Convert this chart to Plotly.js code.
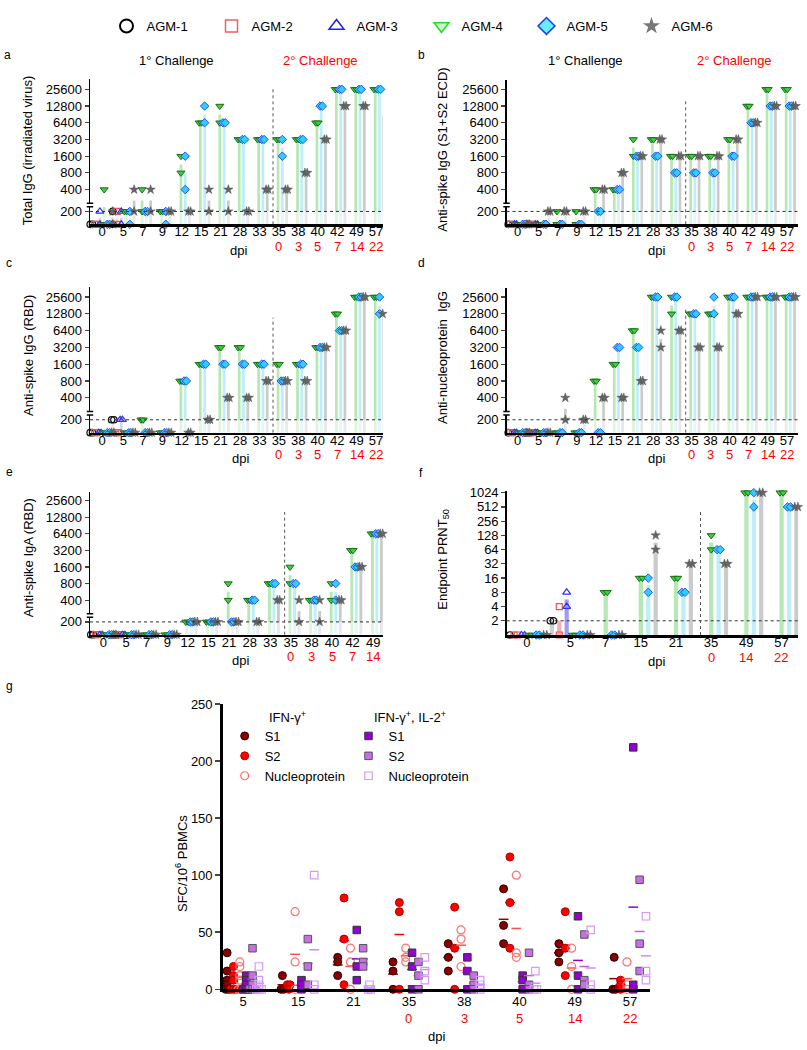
<!DOCTYPE html>
<html><head><meta charset="utf-8">
<script src="https://cdn.plot.ly/plotly-3.0.1.min.js"></script>
<style>html,body{margin:0;padding:0;background:#fff}</style>
</head><body><div id="chart" style="width:807px;height:1050px"></div>
<script>
// ================= DATA =================
const animalNames = ['AGM-1','AGM-2','AGM-3','AGM-4','AGM-5','AGM-6'];
const dayLabels  = ['0','5','7','9','12','15','21','28','33','35','38','40','42','49','57'];
const dayLabelsE = ['0','5','7','9','12','15','21','28','33','35','38','40','42','49'];
const dayLabelsF = ['0','5','7','15','21','35','49','57'];
const challengeDpi = {'35':'0','38':'3','40':'5','42':'7','49':'14','57':'22'};
const titerTicks = [200,400,800,1600,3200,6400,12800,25600];
const prntTicks  = [2,4,8,16,32,64,128,256,512,1024];
const LOD_TITER = 200, LOD_PRNT = 2;

// each entry = [replicate1, replicate2]; 0 = not detected (baseline)
// a: Total IgG (irradiated virus)
const a_AGM1 = [[0,0],[200,0]];
const a_AGM2 = [[0,0],[200,0]];
const a_AGM3 = [[200,0],[200,0]];
const a_AGM4 = [[400,0],[200,200],[400,200],[200,200],[1600,800],[6400,6400],[12800,6400],[3200,3200],[3200,3200],[3200,3200],[3200,3200],[6400,6400],[25600,25600],[25600,25600],[25600,25600]];
const a_AGM5 = [[0,0],[200,0],[200,200],[200,0],[1600,400],[12800,6400],[6400,6400],[3200,3200],[3200,3200],[3200,1600],[3200,3200],[12800,12800],[25600,25600],[25600,25600],[25600,25600]];
const a_AGM6 = [[200,0],[400,200],[400,200],[200,200],[200,200],[400,200],[400,200],[200,200],[400,400],[400,400],[800,800],[3200,3200],[12800,12800],[12800,12800],[12800,6400]];
// b: Anti-spike IgG (S1+S2 ECD)
const b_AGM1 = [[0,0],[0,0]];
const b_AGM2 = [[0,0],[0,0]];
const b_AGM3 = [[0,0],[0,0]];
const b_AGM4 = [[0,0],[0,0],[200,0],[200,0],[400,400],[400,400],[3200,1600],[3200,3200],[1600,1600],[1600,1600],[1600,1600],[3200,3200],[12800,12800],[25600,25600],[25600,25600]];
const b_AGM5 = [[0,0],[0,0],[0,0],[0,0],[200,200],[400,400],[1600,1600],[1600,1600],[800,800],[800,800],[800,800],[1600,1600],[6400,6400],[12800,12800],[12800,12800]];
const b_AGM6 = [[0,0],[200,200],[200,200],[200,200],[400,400],[800,800],[1600,1600],[3200,3200],[1600,1600],[1600,1600],[1600,1600],[3200,3200],[6400,6400],[12800,12800],[12800,12800]];
// c: Anti-spike IgG (RBD)
const c_AGM1 = [[0,0],[200,200]];
const c_AGM2 = [[0,0],[0,0]];
const c_AGM3 = [[0,0],[200,200]];
const c_AGM4 = [[0,0],[0,0],[200,200],[0,0],[800,800],[1600,1600],[3200,3200],[3200,3200],[1600,1600],[1600,1600],[1600,1600],[3200,3200],[12800,12800],[25600,25600],[25600,25600]];
const c_AGM5 = [[0,0],[0,0],[0,0],[0,0],[800,800],[1600,1600],[1600,1600],[1600,1600],[1600,1600],[800,800],[1600,1600],[3200,3200],[6400,6400],[25600,25600],[25600,12800]];
const c_AGM6 = [[0,0],[0,0],[0,0],[0,0],[0,0],[200,200],[400,400],[400,400],[800,800],[800,800],[800,800],[3200,3200],[6400,6400],[25600,25600],[12800,12800]];
// d: Anti-nucleoprotein IgG
const d_AGM1 = [[0,0],[0,0]];
const d_AGM2 = [[0,0],[0,0]];
const d_AGM3 = [[0,0],[0,0]];
const d_AGM4 = [[0,0],[0,0],[0,0],[0,0],[800,800],[1600,1600],[6400,6400],[25600,25600],[25600,12800],[12800,12800],[12800,12800],[25600,25600],[25600,25600],[25600,25600],[25600,25600]];
const d_AGM5 = [[0,0],[0,0],[0,0],[0,0],[0,0],[3200,3200],[3200,3200],[25600,25600],[25600,25600],[12800,12800],[25600,12800],[25600,25600],[25600,25600],[25600,25600],[25600,25600]];
const d_AGM6 = [[0,0],[0,0],[400,200],[200,200],[400,400],[400,400],[800,800],[6400,3200],[6400,6400],[3200,3200],[3200,3200],[12800,12800],[25600,25600],[25600,25600],[25600,25600]];
// e: Anti-spike IgA (RBD)
const e_AGM1 = [[0,0],[0,0]];
const e_AGM2 = [[0,0],[0,0]];
const e_AGM3 = [[0,0],[0,0]];
const e_AGM4 = [[0,0],[0,0],[0,0],[0,0],[200,200],[200,200],[800,400],[400,400],[800,800],[1600,800],[400,400],[800,400],[3200,3200],[6400,6400]];
const e_AGM5 = [[0,0],[0,0],[0,0],[0,0],[200,200],[200,200],[200,200],[400,400],[800,800],[800,800],[400,400],[800,400],[1600,1600],[6400,6400]];
const e_AGM6 = [[0,0],[0,0],[0,0],[0,0],[200,200],[200,200],[200,200],[200,200],[400,400],[400,200],[400,200],[400,400],[1600,1600],[6400,6400]];
// f: Endpoint PRNT50 (1 = baseline)
const f_AGM1 = [[1,1],[2,2]];
const f_AGM2 = [[1,1],[4,1]];
const f_AGM3 = [[1,1],[8,4]];
const f_AGM4 = [[1,1],[1,1],[8,8],[16,16],[16,16],[128,64],[1024,1024],[1024,1024]];
const f_AGM5 = [[1,1],[1,1],[1,1],[16,8],[8,8],[64,64],[1024,512],[512,512]];
const f_AGM6 = [[1,1],[1,1],[1,1],[128,64],[32,32],[32,32],[1024,1024],[512,512]];

// g: SFC/10^6 PBMCs
const gDays = ['5','15','21','35','38','40','49','57'];
const gTicks = [0,50,100,150,200,250];
const g_IFN_S1  = [[32,16,8,4,0,0],[12,0,0],[28,24,12],[24,16,0],[40,28,16],[88,56,40],[40,32,24],[28,0,0]];
const g_IFN_S2  = [[20,12,8,0,0,0],[4,4,0],[80,44,4],[76,68,0],[72,36,0],[116,76,36],[68,36,12],[8,4,0]];
const g_IFN_N   = [[24,20,12,8,0,0],[68,24,0],[36,24,0],[36,28,24],[52,44,20],[100,32,28],[36,20,0],[24,4,0]];
const g_IL2_S1  = [[12,8,4,0,0,0],[8,4,0],[52,20,8],[32,20,0],[28,16,0],[12,8,0],[64,12,0],[212,4,0]];
const g_IL2_S2  = [[36,12,4,0,0,0],[44,20,4],[36,24,20],[24,12,0],[12,4,0],[32,4,0],[48,8,4],[96,40,16]];
const g_IL2_N   = [[20,8,4,0,0,0],[100,4,0],[4,0,0],[28,16,8],[8,4,0],[16,0,0],[52,4,0],[64,16,8]];

// ================= STYLE / LAYOUT =================
const W = 807, H = 1050;
const FONT = 'Arial, "Liberation Sans", sans-serif';
const px = v => v / W, py = v => 1 - v / H;
const P200 = 0.77, P400 = 2.08;
function ypos(v){ if(v<=0) return 0; if(v<200) return P200*v/200; if(v<400) return P200+(P400-P200)*Math.log2(v/200); return P400+Math.log2(v/400); }

const GEOM = {
 a:{x0:90,   x1:383,   yb:224.3, yt:79,    range:[-0.62,14.46], ymax:8.70, divTop:8.16, gap0:0.1, step:0.22, shift:-0.15, rep:0.06, bw:0.14},
 b:{x0:506.5,x1:798,   yb:224.3, yt:80,    range:[-0.58,14.68], ymax:8.64, divTop:7.38, gap0:0.1, step:0.22, shift:-0.15, rep:0.06, bw:0.14},
 c:{x0:90,   x1:383,   yb:432.7, yt:287.3, range:[-0.62,14.46], ymax:8.66, divTop:6.85, gap0:0.1, step:0.22, shift:-0.15, rep:0.06, bw:0.14},
 d:{x0:506.5,x1:798,   yb:432.7, yt:288.3, range:[-0.58,14.68], ymax:8.60, divTop:7.43, gap0:0.1, step:0.22, shift:-0.15, rep:0.06, bw:0.14},
 e:{x0:90,   x1:383.3, yb:634.7, yt:491.7, range:[-0.65,13.59], ymax:8.61, divTop:7.39, gap0:0.1, step:0.22, shift:-0.15, rep:0.06, bw:0.14},
 f:{x0:506.7,x1:798.3, yb:635,   yt:490.7, range:[-0.57,7.72],  ymax:10.14,divTop:8.66, gap0:0.24,step:0.21, shift:-0.1,  rep:0.045,bw:0.12},
 g:{x0:222.7,x1:650,   yb:989.3, yt:704,   range:[-0.367,7.36]}
};
const MARK = [
 {symbol:'circle-open', size:6.5, color:'#111', line:{width:1.2}},
 {symbol:'square-open', size:6, color:'#f05050', line:{width:1.2}},
 {symbol:'triangle-up-open', size:7, color:'#3030f0', line:{width:1.2}},
 {symbol:'triangle-down', size:7, color:'#44cc44', line:{color:'#107010', width:1}},
 {symbol:'diamond', size:6.5, color:'#33ccff', line:{color:'#2255ee', width:1}},
 {symbol:'star', size:7, color:'#666', line:{color:'#555', width:0.5}}
];
const LEGMARK = [
 {symbol:'circle-open', size:13, color:'#000', line:{width:2}},
 {symbol:'square-open', size:12, color:'#f06060', line:{width:1.5}},
 {symbol:'triangle-up-open', size:13, color:'#2020ee', line:{width:1.5}},
 {symbol:'triangle-down', size:13, color:'#c8f5c8', line:{color:'#22dd22', width:1.5}},
 {symbol:'diamond', size:13, color:'#66eeff', line:{color:'#1a3cf0', width:1.5}},
 {symbol:'star', size:13, color:'#777', line:{color:'#777', width:0}}
];
const BARCOL = ['#cfcfcf','#f4b0b0','#9c9cf0','#b5e8b5','#bdeefb','#cbcbcb'];

const PANELS = [
 {id:'a', n:'',  data:[a_AGM1,a_AGM2,a_AGM3,a_AGM4,a_AGM5,a_AGM6], labels:dayLabels,  kind:'titer', yTitle:'Total IgG (irradiated virus)', tx:28.3, ty:150, letter:[7,55], dpiX:239},
 {id:'b', n:'2', data:[b_AGM1,b_AGM2,b_AGM3,b_AGM4,b_AGM5,b_AGM6], labels:dayLabels,  kind:'titer', yTitle:'Anti-spike IgG (S1+S2 ECD)', tx:442.7, ty:150, letter:[421.7,55], dpiX:656.7},
 {id:'c', n:'3', data:[c_AGM1,c_AGM2,c_AGM3,c_AGM4,c_AGM5,c_AGM6], labels:dayLabels,  kind:'titer', yTitle:'Anti-spike IgG (RBD)', tx:28.3, ty:355.7, letter:[9,262.7], dpiX:240},
 {id:'d', n:'4', data:[d_AGM1,d_AGM2,d_AGM3,d_AGM4,d_AGM5,d_AGM6], labels:dayLabels,  kind:'titer', yTitle:'Anti-nucleoprotein  IgG', tx:442.7, ty:357.3, letter:[421,262.7], dpiX:656},
 {id:'e', n:'5', data:[e_AGM1,e_AGM2,e_AGM3,e_AGM4,e_AGM5,e_AGM6], labels:dayLabelsE, kind:'titer', yTitle:'Anti-spike IgA (RBD)', tx:28.3, ty:558, letter:[9,471.7], dpiX:240},
 {id:'f', n:'6', data:[f_AGM1,f_AGM2,f_AGM3,f_AGM4,f_AGM5,f_AGM6], labels:dayLabelsF, kind:'prnt',  yTitle:'Endpoint PRNT<sub>50</sub>', tx:442.7, ty:560, letter:[421,472.7], dpiX:656.7}
];

const traces = [], shapes = [], annotations = [];
const layout = {
  width:W, height:H, margin:{l:0,r:0,t:0,b:0}, paper_bgcolor:'#fff', plot_bgcolor:'rgba(0,0,0,0)',
  font:{family:FONT, size:13, color:'#000'}, barmode:'overlay', showlegend:true,
  legend:{orientation:'h', x:px(106.5), y:py(11), xanchor:'left', yanchor:'top', entrywidth:60, entrywidthmode:'pixels',
          font:{size:13}, bgcolor:'rgba(0,0,0,0)', itemclick:false, itemdoubleclick:false},
  legend2:{x:px(224.7), y:py(721), xanchor:'left', yanchor:'top', font:{size:13}, bgcolor:'rgba(0,0,0,0)', tracegroupgap:0, itemclick:false, itemdoubleclick:false},
  legend3:{x:px(348.5), y:py(721), xanchor:'left', yanchor:'top', font:{size:13}, bgcolor:'rgba(0,0,0,0)', tracegroupgap:0, itemclick:false, itemdoubleclick:false}
};

function ann(text, x, y, opts){ annotations.push(Object.assign({text, x:px(x), y:py(y), xref:'paper', yref:'paper', showarrow:false, font:{size:13}, xanchor:'center', yanchor:'middle'}, opts||{})); }

PANELS.forEach(p => {
  const G = GEOM[p.id];
  const xa = 'x'+p.n, ya = 'y'+p.n;
  const xs = i => i + (i>=1 ? G.gap0 : 0);
  const yt = p.kind==='titer' ? ypos : (v => Math.log2(v));
  const lodPos = p.kind==='titer' ? ypos(LOD_TITER) : Math.log2(LOD_PRNT);
  const split = p.kind==='titer';
  p.data.forEach((arr, k) => {
    const lx=[], ly=[], hx=[], hy=[], hb=[], mx=[], my=[];
    arr.forEach((d, i) => {
      if(!d) return;
      const cx = xs(i) + (k-2.5)*G.step + (i>=2 ? G.shift : 0);
      const p1 = yt(d[0]), p2 = yt(d[1]), m = (p1+p2)/2;
      if(m > 0){
        if(split){ lx.push(cx); ly.push(Math.min(m, lodPos)); if(m > lodPos){ hx.push(cx); hy.push(m-lodPos); hb.push(lodPos); } }
        else { hx.push(cx); hy.push(m); hb.push(0); }
      }
      if(d[0]===d[1]){ mx.push(cx-G.rep, cx+G.rep); } else { mx.push(cx, cx); }
      my.push(p1, p2);
    });
    if(lx.length) traces.push({type:'bar', x:lx, y:ly, base:0, width:G.bw, xaxis:xa, yaxis:ya, marker:{color:BARCOL[k], opacity:0.45, line:{width:0}}, showlegend:false, hoverinfo:'skip'});
    if(hx.length) traces.push({type:'bar', x:hx, y:hy, base:hb, width:G.bw, xaxis:xa, yaxis:ya, marker:{color:BARCOL[k], line:{width:0}}, showlegend:false, hoverinfo:'skip'});
    traces.push({type:'scatter', mode:'markers', x:mx, y:my, xaxis:xa, yaxis:ya, marker:MARK[k], cliponaxis:false, showlegend:false, hoverinfo:'skip'});
  });
  const tickV = p.labels.map((_, i) => xs(i));
  const yTickVals = p.kind==='titer' ? titerTicks.map(ypos) : prntTicks.map(v => Math.log2(v));
  const yTickText = (p.kind==='titer' ? titerTicks : prntTicks).map(String);
  layout['xaxis'+p.n] = {domain:[px(G.x0), px(G.x1)], range:G.range, anchor:ya, showline:true, linewidth:2.5, linecolor:'#000',
     ticks:'', tickvals:tickV, ticktext:p.labels, showgrid:false, zeroline:false, tickfont:{size:13}, ticklabelstandoff:-6, fixedrange:true};
  layout['yaxis'+p.n] = {domain:[py(G.yb), py(G.yt)], range:[0, G.ymax], anchor:xa, showline:true, linewidth:1.5, linecolor:'#000',
     ticks:'outside', ticklen:4, tickwidth:1.2, tickvals:yTickVals, ticktext:yTickText, showgrid:false, zeroline:false, tickfont:{size:13}, fixedrange:true};
  shapes.push({type:'line', xref:xa+' domain', yref:ya, x0:0, x1:1, y0:lodPos, y1:lodPos, line:{color:'#333', width:1, dash:'dot'}, layer:'above'});
  const firstSecond = p.labels.findIndex(l => challengeDpi[l] !== undefined);
  const divX = xs(firstSecond) - 0.3;
  shapes.push({type:'line', xref:xa, yref:ya, x0:divX, x1:divX, y0:0, y1:G.divTop, line:{color:'#555', width:1, dash:'dot'}, layer:'above'});
  if(split){
    shapes.push({type:'rect', xref:xa+' domain', yref:ya, x0:-0.02, x1:0.02, y0:1.05, y1:1.26, fillcolor:'#fff', line:{width:0}, layer:'above'});
    [1.05, 1.26].forEach(yb => shapes.push({type:'line', xref:xa+' domain', yref:ya, x0:-0.011, x1:0.011, y0:yb, y1:yb, line:{color:'#000', width:1.5}, layer:'above'}));
  }
  p.labels.forEach((l, i) => {
    if(challengeDpi[l] !== undefined) annotations.push({text:challengeDpi[l], x:xs(i), xref:xa, y:py(G.yb+22), yref:'paper', showarrow:false, font:{size:13, color:'#ff0000'}, xanchor:'center', yanchor:'middle'});
  });
  ann('dpi', p.dpiX, G.yb+26);
  ann(p.yTitle, p.tx, p.ty, {textangle:-90});
  ann(p.id, p.letter[0], p.letter[1], {font:{size:12}});
});

ann('1° Challenge', 176, 60.7);
ann('2° Challenge', 320.5, 60.7, {font:{size:13, color:'#ff0000'}});
ann('1° Challenge', 585.5, 60.7);
ann('2° Challenge', 734.5, 60.7, {font:{size:13, color:'#ff0000'}});

animalNames.forEach((nm, k) => traces.push({type:'scatter', mode:'markers', x:[null], y:[null], xaxis:'x', yaxis:'y', name:nm, marker:LEGMARK[k], legend:'legend', hoverinfo:'skip'}));

// ---------- panel g ----------
const Gg = GEOM.g;
const gSeries = [
 {name:'S1', data:g_IFN_S1, leg:'legend2', m:{symbol:'circle', size:8, color:'#8b0000', line:{color:'#2a0000', width:1}}, dash:'#8b0000'},
 {name:'S2', data:g_IFN_S2, leg:'legend2', m:{symbol:'circle', size:8, color:'#ff0000', line:{color:'#b00000', width:1}}, dash:'#ff0000'},
 {name:'Nucleoprotein', data:g_IFN_N, leg:'legend2', m:{symbol:'circle-open', size:8, color:'#ff7070', line:{width:1.2}}, dash:'#ff5050'},
 {name:'S1', data:g_IL2_S1, leg:'legend3', m:{symbol:'square', size:7.5, color:'#9400d3', line:{color:'#333', width:1}}, dash:'#9400d3'},
 {name:'S2', data:g_IL2_S2, leg:'legend3', m:{symbol:'square', size:7.5, color:'#c86ee8', line:{color:'#555', width:1}}, dash:'#c060e0'},
 {name:'Nucleoprotein', data:g_IL2_N, leg:'legend3', m:{symbol:'square-open', size:7.5, color:'#d49af5', line:{width:1.2}}, dash:'#c890f0'}
];
gSeries.forEach((s, k) => {
  const mx=[], my=[], dx=[], dy=[];
  s.data.forEach((vals, i) => {
    const cx = i + (k-2.5)*0.115;
    const seen = {};
    vals.forEach(v => { seen[v] = (seen[v]||0)+1; });
    const used = {};
    vals.forEach(v => { const n = seen[v]; const j = used[v]||0; used[v] = j+1; mx.push(cx + (j-(n-1)/2)*0.05); my.push(v); });
    dx.push(cx); dy.push(vals.reduce((a,b)=>a+b,0)/vals.length);
  });
  traces.push({type:'scatter', mode:'markers', x:dx, y:dy, xaxis:'x7', yaxis:'y7', marker:{symbol:'line-ew', size:7, line:{color:s.dash, width:1.5}}, showlegend:false, cliponaxis:false, hoverinfo:'skip'});
  traces.push({type:'scatter', mode:'markers', x:mx, y:my, xaxis:'x7', yaxis:'y7', name:s.name, legend:s.leg, marker:s.m, cliponaxis:false, hoverinfo:'skip'});
});
layout.xaxis7 = {domain:[px(Gg.x0), px(Gg.x1)], range:Gg.range, anchor:'y7', showline:true, linewidth:3, linecolor:'#000', ticks:'', tickvals:gDays.map((_,i)=>i), ticktext:gDays, showgrid:false, zeroline:false, tickfont:{size:13}, ticklabelstandoff:-2, fixedrange:true};
layout.yaxis7 = {domain:[py(Gg.yb), py(Gg.yt)], range:[0,250], anchor:'x7', showline:true, linewidth:2.5, linecolor:'#000', ticks:'outside', ticklen:5, tickwidth:1.5, tickvals:gTicks, showgrid:false, zeroline:false, tickfont:{size:13}, fixedrange:true};
gDays.forEach((l, i) => { if(challengeDpi[l] !== undefined) annotations.push({text:challengeDpi[l], x:i, xref:'x7', y:py(1018.3), yref:'paper', showarrow:false, font:{size:13, color:'#ff0000'}, xanchor:'center', yanchor:'middle'}); });
ann('dpi', 436.7, 1036.7);
ann('SFC/10<sup>6</sup> PBMCs', 181.7, 863.3, {textangle:-90});
ann('g', 9, 685.7, {font:{size:12}});
ann('IFN-γ<sup>+</sup>', 266.7, 716.7, {xanchor:'left'});
ann('IFN-γ<sup>+</sup>, IL-2<sup>+</sup>', 371.7, 716.7, {xanchor:'left'});

layout.shapes = shapes;
layout.annotations = annotations;
Plotly.newPlot('chart', traces, layout, {displayModeBar:false, staticPlot:true});
</script></body></html>
